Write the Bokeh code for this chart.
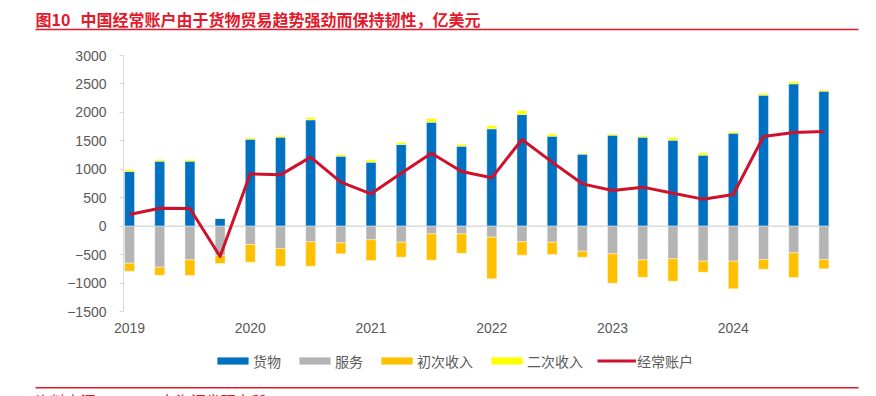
from bokeh.plotting import figure
from bokeh.layouts import column
from bokeh.models import (ColumnDataSource, FixedTicker, Span, Label, BoxAnnotation,
                          Legend, LegendItem, Range1d)
from bokeh.embed import file_html
from bokeh.resources import INLINE

# ---- data (亿美元), quarterly 2019Q1 - 2024Q4 ----
quarters = ["2019Q1", "2019Q2", "2019Q3", "2019Q4",
            "2020Q1", "2020Q2", "2020Q3", "2020Q4",
            "2021Q1", "2021Q2", "2021Q3", "2021Q4",
            "2022Q1", "2022Q2", "2022Q3", "2022Q4",
            "2023Q1", "2023Q2", "2023Q3", "2023Q4",
            "2024Q1", "2024Q2", "2024Q3", "2024Q4"]
goods = [961, 1143, 1143, 135, 1529, 1565, 1869, 1231,
         1125, 1436, 1828, 1406, 1711, 1963, 1582, 1266,
         1600, 1565, 1512, 1248, 1635, 2303, 2502, 2373]
services = [-650, -721, -592, -516, -322, -393, -275, -293,
            -240, -281, -135, -135, -193, -275, -281, -440,
            -486, -592, -574, -615, -615, -586, -469, -586]
primary = [-141, -140, -275, -140, -311, -310, -428, -193,
           -364, -264, -463, -340, -733, -235, -217, -105,
           -516, -305, -393, -194, -487, -170, -433, -164]
secondary = [35, 29, 29, 5, 24, 29, 41, 29,
             41, 41, 65, 36, 59, 70, 41, 17,
             23, 23, 47, 41, 29, 35, 41, 24]
current = [205, 316, 310, -533, 920, 902, 1213, 773,
           568, 932, 1283, 961, 850, 1524, 1125, 744,
           627, 686, 580, 475, 557, 1576, 1647, 1664]
year_ticks = [0, 4, 8, 12, 16, 20]
year_labels = ["2019", "2020", "2021", "2022", "2023", "2024"]
y_ticks = [-1500, -1000, -500, 0, 500, 1000, 1500, 2000, 2500, 3000]

series_names = ["货物", "服务", "初次收入", "二次收入", "经常账户"]
title_no = "图10"
title_text = "中国经常账户由于货物贸易趋势强劲而保持韧性，亿美元"
source_text = "资料来源：SAFE，东海证券研究所"

RED = "#E3192B"
LINE_RED = "#D0112B"
BLUE = "#0070C0"
GRAY = "#B4B4B4"
ORANGE = "#FFC000"
YELLOW = "#FFFF00"
TXT = "#595959"
NUM_FONT = "Liberation Sans"
CJK_FONT = "Noto Sans CJK SC"
W = 876


def blank_fig(h):
    f = figure(width=W, height=h, output_backend="svg", toolbar_location=None,
               title=None, x_axis_location=None, y_axis_location=None,
               x_range=Range1d(0, W), y_range=Range1d(h, 0),
               min_border=0, min_border_left=0, min_border_right=0,
               min_border_top=0, min_border_bottom=0, frame_align=False)
    f.outline_line_color = None
    f.grid.visible = False
    return f


# ---------- top strip: title + rule (page y 0..47) ----------
top = blank_fig(47)
top.add_layout(Label(x=35, y=18, text=title_no, text_font=CJK_FONT,
                     text_font_size="16px", text_font_style="bold",
                     text_color=RED, text_baseline="middle"))
top.add_layout(Label(x=80, y=18, text=title_text, text_font=CJK_FONT,
                     text_font_size="16px", text_font_style="bold",
                     text_color=RED, text_baseline="middle"))
top.add_layout(BoxAnnotation(left=35, right=858, top=28.3, bottom=29.8,
                             fill_color=RED, fill_alpha=1, line_color=None))

# ---------- main chart (page y 47..346) ----------
MAIN_H = 299
x = list(range(len(quarters)))
src = ColumnDataSource(dict(x=x, goods=goods, services=services, primary=primary,
                            secondary=secondary, current=current))

p = figure(width=W, height=MAIN_H, output_backend="svg", toolbar_location=None,
           title=None, frame_align=False,
           x_range=Range1d(-0.2, 23.22), y_range=Range1d(-1500, 3000),
           min_border_left=123, min_border_right=46, min_border_top=8,
           min_border_bottom=MAIN_H - 8 - 256)
p.outline_line_color = None
p.grid.visible = False

p.add_layout(Span(location=0, dimension="width", line_color="#C8C8C8",
                  line_width=1, level="underlay"))

r_pos = p.vbar_stack(["goods", "secondary"], x="x", width=0.33, source=src,
                     fill_color=[BLUE, YELLOW], line_color="white", line_width=0.4)
r_neg = p.vbar_stack(["services", "primary"], x="x", width=0.33, source=src,
                     fill_color=[GRAY, ORANGE], line_color="white", line_width=0.4)
r_line = p.line("x", "current", source=src, line_color=LINE_RED, line_width=3,
                line_join="round")

ya = p.yaxis[0]
ya.ticker = FixedTicker(ticks=y_ticks)
ya.axis_line_color = "#D9D9D9"
ya.major_tick_line_color = "#D9D9D9"
ya.major_tick_out = 4
ya.major_tick_in = 0
ya.minor_tick_line_color = None
ya.major_label_text_font = NUM_FONT
ya.major_label_text_font_size = "14px"
ya.major_label_text_color = TXT
ya.major_label_standoff = 13

xa = p.xaxis[0]
xa.ticker = FixedTicker(ticks=year_ticks)
xa.major_label_overrides = {t: l for t, l in zip(year_ticks, year_labels)}
xa.axis_line_color = None
xa.major_tick_line_color = None
xa.minor_tick_line_color = None
xa.major_tick_out = 0
xa.major_tick_in = 0
xa.major_label_text_font = NUM_FONT
xa.major_label_text_font_size = "14px"
xa.major_label_text_color = TXT
xa.major_label_standoff = 11

# ---------- bottom strip: legend, rule, source (page y 346..396) ----------
BOT_H = 50
bot = blank_fig(BOT_H)
# legend-only proxies, placed outside the visible range
proxy = ColumnDataSource(dict(x=[-1000], top=[-1000], y=[-1000]))
lg_goods = bot.vbar(x="x", top="top", width=1, source=proxy, fill_color=BLUE, line_color=None)
lg_serv = bot.vbar(x="x", top="top", width=1, source=proxy, fill_color=GRAY, line_color=None)
lg_prim = bot.vbar(x="x", top="top", width=1, source=proxy, fill_color=ORANGE, line_color=None)
lg_sec = bot.vbar(x="x", top="top", width=1, source=proxy, fill_color=YELLOW, line_color=None)
lg_cur = bot.line(x="x", y="y", source=proxy, line_color=LINE_RED, line_width=3)

legend = Legend(items=[
    LegendItem(label=series_names[0], renderers=[lg_goods]),
    LegendItem(label=series_names[1], renderers=[lg_serv]),
    LegendItem(label=series_names[2], renderers=[lg_prim]),
    LegendItem(label=series_names[3], renderers=[lg_sec]),
    LegendItem(label=series_names[4], renderers=[lg_cur]),
], orientation="horizontal", location=(213, BOT_H - 14.5 - 10), glyph_width=39,
    glyph_height=9, label_standoff=1, spacing=14, padding=0, margin=0,
    border_line_color=None, background_fill_alpha=0, label_text_font=CJK_FONT,
    label_text_font_size="14px", label_text_color=TXT, label_height=20)
bot.add_layout(legend)

bot.add_layout(BoxAnnotation(left=35, right=858, top=40.6, bottom=42.0,
                             fill_color=RED, fill_alpha=1, line_color=None))
bot.add_layout(Label(x=35, y=43, text=source_text, text_font=CJK_FONT,
                     text_font_size="15px", text_color=RED, text_baseline="top"))

layout = column(top, p, bot, spacing=0)
open("out.html", "w").write(file_html(layout, INLINE))
